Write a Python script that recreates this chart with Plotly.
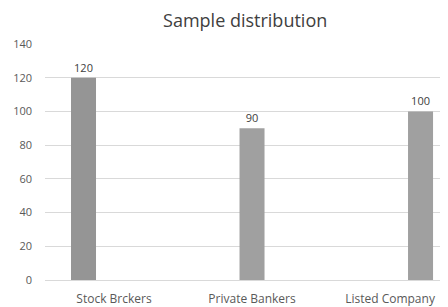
import plotly.graph_objects as go

categories = ["Stock Brckers", "Private Bankers", "Listed Company"]
values = [120, 90, 100]
colors = ["#959595", "#a0a0a0", "#a0a0a0"]
y_ticks = [0, 20, 40, 60, 80, 100, 120, 140]

fig = go.Figure()
for i, cat in enumerate(categories):
    yv = [values[i] if j == i else None for j in range(len(categories))]
    txt = [str(values[i]) if j == i else "" for j in range(len(categories))]
    fig.add_trace(go.Bar(
        x=categories, y=yv, text=txt, textposition="outside",
        textfont=dict(size=11, color="#404040", family="Open Sans"),
        marker=dict(color=colors[i], line=dict(width=0)),
        cliponaxis=False, showlegend=False,
    ))

# page body has an 8px default margin, so the figure is drawn at (8,8)
fig.update_layout(
    width=440, height=299,
    margin=dict(l=37, r=0, t=36, b=19),
    paper_bgcolor="white", plot_bgcolor="white",
    barmode="group", bargap=0.337, bargroupgap=0.18,
    title=dict(text="Sample distribution", x=0.539, xanchor="center", y=0.958, yanchor="middle",
               font=dict(size=18, color="#404040", family="Open Sans")),
    font=dict(family="Open Sans", size=11, color="#595959"),
)
fig.update_xaxes(type="category", range=[-0.5, 2.42], showgrid=False, showline=False,
                 ticks="", ticklabelstandoff=10, tickfont=dict(size=12, color="#595959"))
fig.update_yaxes(range=[0, 140], tickvals=y_ticks, showgrid=True, gridcolor="#d9d9d9",
                 gridwidth=1, zeroline=True, zerolinecolor="#d9d9d9", zerolinewidth=1,
                 showline=False, ticks="", ticklabelstandoff=12,
                 tickfont=dict(size=11, color="#595959"))

fig.write_html("out.html")
